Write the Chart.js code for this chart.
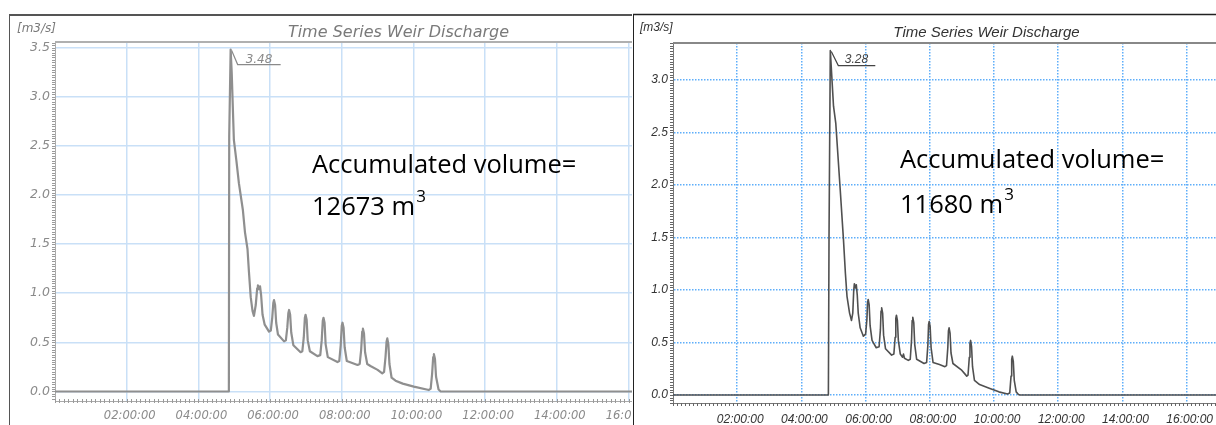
<!DOCTYPE html>
<html>
<head>
<meta charset="utf-8">
<script src="https://cdn.jsdelivr.net/npm/chart.js@4.4.1/dist/chart.umd.min.js"></script>
<style>
html,body{margin:0;padding:0;background:#fff;width:1216px;height:425px;overflow:hidden;}
#left{position:absolute;left:0;top:0;width:632px;height:425px;overflow:hidden;}
#right{position:absolute;left:632px;top:0;width:584px;height:425px;overflow:hidden;}
canvas{position:absolute;left:0;top:0;}
.note{position:absolute;font-family:'Open Sans',sans-serif;font-size:25.5px;color:#000;white-space:nowrap;}
.note sup{font-size:17px;vertical-align:baseline;position:relative;top:-13px;margin-left:1px;}
</style>
</head>
<body>
<div id="left">
  <canvas id="c1" width="760" height="431" style="width:760px;height:431px"></canvas>
  <div class="note" id="noteL" style="left:312px;top:142px;line-height:42px;"></div>
</div>
<div id="right">
  <canvas id="c2" width="680" height="433" style="width:680px;height:433px"></canvas>
  <div class="note" id="noteR" style="left:268px;top:136px;line-height:45px;"></div>
</div>
<script>
// ---------------- data ----------------
const xTickHours = [2, 4, 6, 8, 10, 12, 14, 16, 18];
const yTicksLeft = [0, 0.5, 1, 1.5, 2, 2.5, 3, 3.5];
const yTicksRight = [0, 0.5, 1, 1.5, 2, 2.5, 3];

const timeLeft = [0, 4.85, 4.86, 4.90, 4.93, 4.99, 5.06, 5.13, 5.24, 5.30, 5.37, 5.41, 5.46, 5.51, 5.55,
  5.60, 5.64, 5.66, 5.69, 5.72, 5.75, 5.79, 5.85, 5.97,
  6.02, 6.06, 6.09, 6.11, 6.14, 6.17, 6.22, 6.39,
  6.44, 6.48, 6.51, 6.53, 6.56, 6.59, 6.65, 6.85,
  6.90, 6.94, 6.97, 6.99, 7.02, 7.05, 7.11, 7.32,
  7.40, 7.44, 7.47, 7.49, 7.52, 7.55, 7.61, 7.88,
  7.93, 7.97, 8.00, 8.02, 8.05, 8.08, 8.14, 8.44,
  8.50, 8.54, 8.57, 8.59, 8.62, 8.65, 8.71, 8.80, 9.00, 9.13,
  9.18, 9.22, 9.25, 9.27, 9.30, 9.33, 9.39, 9.50, 9.70, 10.01, 10.43,
  10.48, 10.52, 10.55, 10.57, 10.60, 10.63, 10.70, 10.76, 18.83];
const flowLeft = [0, 0, 2.6, 3.48, 3.24, 2.56, 2.35, 2.12, 1.85, 1.62, 1.45, 1.22, 0.96, 0.82, 0.77,
  0.88, 1.05, 1.08, 1.04, 1.07, 0.98, 0.78, 0.68, 0.61,
  0.62, 0.75, 0.90, 0.93, 0.88, 0.70, 0.58, 0.51,
  0.52, 0.65, 0.80, 0.83, 0.78, 0.60, 0.47, 0.40,
  0.41, 0.55, 0.75, 0.78, 0.73, 0.52, 0.41, 0.36,
  0.37, 0.52, 0.72, 0.75, 0.70, 0.48, 0.35, 0.30,
  0.31, 0.47, 0.67, 0.70, 0.65, 0.45, 0.31, 0.27,
  0.28, 0.42, 0.61, 0.64, 0.59, 0.40, 0.28, 0.26, 0.22, 0.185,
  0.20, 0.35, 0.51, 0.54, 0.48, 0.28, 0.14, 0.11, 0.08, 0.05, 0.015,
  0.03, 0.18, 0.35, 0.38, 0.33, 0.15, 0.02, 0, 0];

const timeRight = [0, 4.84, 4.86, 4.90, 5.00, 5.07, 5.21, 5.31, 5.37, 5.42, 5.50, 5.56,
  5.60, 5.63, 5.65, 5.68, 5.71, 5.74, 5.77, 5.83, 5.93,
  6.00, 6.04, 6.06, 6.08, 6.11, 6.14, 6.20, 6.33,
  6.42, 6.46, 6.48, 6.50, 6.53, 6.56, 6.62, 6.81,
  6.88, 6.92, 6.94, 6.96, 6.99, 7.02, 7.08, 7.15, 7.18, 7.21, 7.33,
  7.39, 7.43, 7.45, 7.47, 7.50, 7.53, 7.59, 7.82,
  7.90, 7.94, 7.96, 7.98, 8.01, 8.04, 8.10, 8.30, 8.47,
  8.52, 8.56, 8.58, 8.60, 8.63, 8.66, 8.72, 8.98, 9.15,
  9.19, 9.23, 9.25, 9.27, 9.30, 9.33, 9.39, 9.55, 9.85, 10.15, 10.42,
  10.49, 10.53, 10.55, 10.57, 10.60, 10.63, 10.69, 10.76, 10.81, 18.97];
const flowRight = [0, 0, 1.5, 3.28, 2.75, 2.59, 1.95, 1.48, 1.16, 0.94, 0.78, 0.71,
  0.78, 1.00, 1.06, 1.02, 1.05, 0.95, 0.78, 0.64, 0.56,
  0.58, 0.72, 0.88, 0.91, 0.86, 0.66, 0.52, 0.45,
  0.46, 0.62, 0.80, 0.83, 0.78, 0.57, 0.44, 0.38,
  0.39, 0.55, 0.73, 0.76, 0.71, 0.52, 0.39, 0.36, 0.39, 0.35, 0.33,
  0.34, 0.52, 0.71, 0.74, 0.69, 0.48, 0.34, 0.30,
  0.31, 0.48, 0.67, 0.70, 0.65, 0.45, 0.31, 0.29, 0.27,
  0.28, 0.45, 0.61, 0.64, 0.59, 0.40, 0.30, 0.24, 0.18,
  0.19, 0.36, 0.49, 0.52, 0.46, 0.27, 0.14, 0.10, 0.064, 0.03, 0.01,
  0.02, 0.18, 0.34, 0.37, 0.32, 0.14, 0.03, 0.005, 0, 0];

const chartTitle = 'Time Series Weir Discharge';
const unitLabel = '[m3/s]';
const volumeLeft = '12673';
const volumeRight = '11680';
// --------------------------------------

const fmtHour = h => String(h).padStart(2, '0') + ':00:00';

document.getElementById('noteL').innerHTML = 'Accumulated volume=<br>' + volumeLeft + ' m<sup>3</sup>';
document.getElementById('noteR').innerHTML = 'Accumulated volume=<br>' + volumeRight + ' m<sup>3</sup>';

function makeDecor(o) {
  return {
    id: 'decor',
    beforeDraw(chart) {
      const ctx = chart.ctx;
      ctx.save();
      ctx.fillStyle = '#fff';
      ctx.fillRect(0, 0, chart.width, chart.height);
      ctx.strokeStyle = o.frameColor;
      ctx.lineWidth = o.frameTopW;
      ctx.beginPath(); ctx.moveTo(o.frameX, o.frameY); ctx.lineTo(chart.width, o.frameY); ctx.stroke();
      ctx.lineWidth = 1;
      ctx.beginPath(); ctx.moveTo(o.frameX + 0.5, o.frameY); ctx.lineTo(o.frameX + 0.5, chart.height); ctx.stroke();
      ctx.restore();
    },
    afterDraw(chart) {
      const ctx = chart.ctx, a = chart.chartArea;
      const xs = chart.scales.x, ys = chart.scales.y;
      ctx.save();
      // minor ticks
      ctx.strokeStyle = o.minorColor; ctx.lineWidth = 1;
      ctx.beginPath();
      for (let v = xs.min; v <= xs.max; v += 0.125) {
        const px = Math.round(xs.getPixelForValue(v)) + 0.5;
        ctx.moveTo(px, a.bottom + o.xTickFrom); ctx.lineTo(px, a.bottom + o.xTickTo);
      }
      for (let k = Math.ceil(ys.min / 0.025); k * 0.025 <= ys.max; k++) {
        const py = Math.round(ys.getPixelForValue(k * 0.025)) + 0.5;
        ctx.moveTo(a.left - o.yTickLen, py); ctx.lineTo(a.left, py);
      }
      ctx.stroke();
      // top border
      ctx.strokeStyle = o.topColor; ctx.lineWidth = 2;
      ctx.beginPath(); ctx.moveTo(a.left, a.top); ctx.lineTo(chart.width, a.top); ctx.stroke();
      // title & unit
      ctx.fillStyle = o.titleColor;
      ctx.font = o.titleFont;
      ctx.textAlign = 'center'; ctx.textBaseline = 'alphabetic';
      ctx.fillText(chartTitle, o.titleX, o.titleY);
      ctx.font = o.unitFont; ctx.textAlign = 'left';
      ctx.fillText(unitLabel, o.unitX, o.unitY);
      // peak label
      const data = chart.data.datasets[0].data;
      let best = 0;
      data.forEach((d, i) => { if (d.y > data[best].y) best = i; });
      const px = xs.getPixelForValue(data[best].x), py = ys.getPixelForValue(data[best].y);
      ctx.strokeStyle = o.peakColor; ctx.lineWidth = 1.2;
      ctx.beginPath();
      ctx.moveTo(px + 1, py + 1); ctx.lineTo(px + o.legDx, py + 15); ctx.lineTo(px + o.legLen, py + 15);
      ctx.stroke();
      ctx.fillStyle = o.peakColor; ctx.font = o.peakFont;
      ctx.fillText(data[best].y.toFixed(2), px + o.textDx, py + o.textDy);
      ctx.restore();
    }
  };
}

function build(id, time, flow, o) {
  return new Chart(document.getElementById(id), {
    type: 'line',
    data: { datasets: [{ data: time.map((t, i) => ({ x: t, y: flow[i] })), borderColor: o.lineColor, borderWidth: o.lineWidth, pointRadius: 0, tension: 0, fill: false, borderJoinStyle: 'round' }] },
    options: {
      responsive: false, animation: false, devicePixelRatio: 1,
      layout: { padding: { left: 0, top: o.top, right: 30, bottom: 0 } },
      plugins: { legend: { display: false }, tooltip: { enabled: false }, title: { display: false } },
      scales: {
        x: {
          type: 'linear', min: 0, max: o.xMax,
          afterBuildTicks: s => { s.ticks = xTickHours.map(v => ({ value: v })); },
          afterFit: s => { s.height = o.xAxisH; },
          grid: { color: o.gridColor, lineWidth: o.gridW, drawTicks: false },
          border: { display: true, color: o.axisColor, width: 1, dash: o.gridDash },
          ticks: { callback: v => fmtHour(v), color: o.tickColor, font: o.xFont, padding: o.xPad, labelOffset: 3, maxRotation: 0, autoSkip: false }
        },
        y: {
          type: 'linear', min: o.yMin, max: o.yMax,
          afterBuildTicks: s => { s.ticks = o.yTicks.map(v => ({ value: v })); },
          afterFit: s => { s.width = o.yAxisW; },
          grid: { color: o.gridColor, lineWidth: o.gridW, drawTicks: false },
          border: { display: true, color: o.axisColor, width: 1, dash: o.gridDash },
          ticks: { callback: v => Number(v).toFixed(1), color: o.tickColor, font: o.yFont, padding: 5, autoSkip: false }
        }
      }
    },
    plugins: [makeDecor(o)]
  });
}

build('c1', timeLeft, flowLeft, {
  top: 42, xMax: 18.83, xAxisH: 30, yAxisW: 55, yMin: -0.0967, yMax: 3.557, yTicks: yTicksLeft,
  lineColor: '#8f8f8f', lineWidth: 2.2,
  gridColor: '#c9e0f7', gridW: 1.5, gridDash: [], axisColor: '#aaaaaa', tickColor: '#8a8a8a',
  xFont: { family: 'DejaVu Sans', size: 11.5, style: 'italic' }, xPad: 8,
  yFont: { family: 'DejaVu Sans', size: 12.5, style: 'italic' },
  frameX: 9, frameY: 15, frameTopW: 2, frameColor: '#555555',
  minorColor: '#9a9a9a', xTickFrom: -2, xTickTo: 2, yTickLen: 3, topColor: '#b0b0b0',
  titleColor: '#7a7a7a', titleFont: 'italic 16px "DejaVu Sans"', titleX: 398.5, titleY: 36.5,
  unitFont: 'italic 12px "DejaVu Sans"', unitX: 17, unitY: 31.5,
  peakColor: '#8a8a8a', peakFont: 'italic 12px "DejaVu Sans"', legDx: 7, legLen: 50, textDx: 15, textDy: 13
});

build('c2', timeRight, flowRight, {
  top: 43, xMax: 18.97, xAxisH: 30, yAxisW: 41, yMin: -0.076, yMax: 3.352, yTicks: yTicksRight,
  lineColor: '#505050', lineWidth: 1.6,
  gridColor: '#5eaefa', gridW: 1.5, gridDash: [1.5, 1.5], axisColor: '#777777', tickColor: '#333333',
  xFont: { family: 'Liberation Sans', size: 12, style: 'italic' }, xPad: 9,
  yFont: { family: 'Liberation Sans', size: 12, style: 'italic' },
  frameX: 1, frameY: 14.5, frameTopW: 1.5, frameColor: '#222222',
  minorColor: '#666666', xTickFrom: 0, xTickTo: 3, yTickLen: 3, topColor: '#888888',
  titleColor: '#333333', titleFont: 'italic 15px "Liberation Sans"', titleX: 354.5, titleY: 36.5,
  unitFont: 'italic 12px "Liberation Sans"', unitX: 8, unitY: 31,
  peakColor: '#444444', peakFont: 'italic 12px "Liberation Sans"', legDx: 8, legLen: 45, textDx: 14.5, textDy: 12
});
</script>
</body>
</html>
